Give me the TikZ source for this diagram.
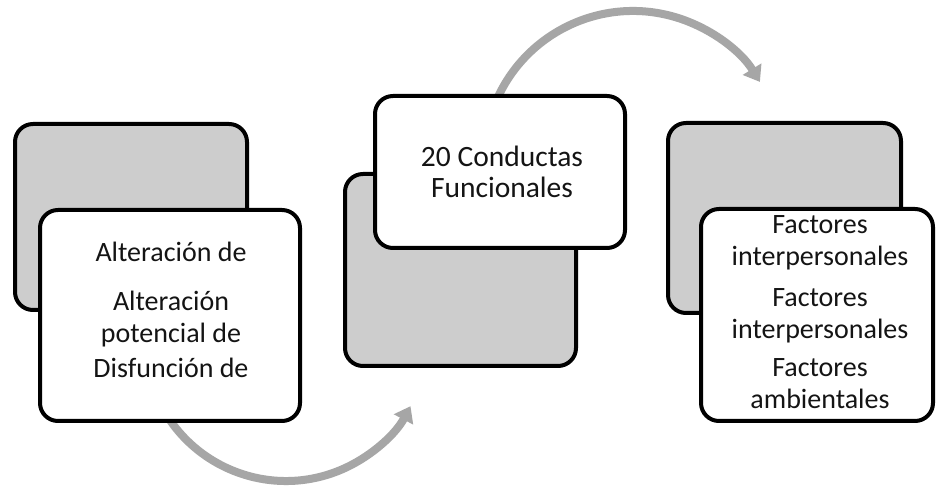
\documentclass[tikz,border=0pt]{standalone}
\usepackage{fontspec}
\setmainfont{Carlito}
\usetikzlibrary{arrows.meta}
\definecolor{boxgray}{RGB}{205,205,205}
\definecolor{arrowgray}{RGB}{166,166,166}
\definecolor{textdark}{RGB}{20,20,20}
\tikzset{
  backbox/.style={draw=black, line width=4pt, rounded corners=18pt, fill=boxgray, inner sep=0pt},
  frontbox/.style={draw=black, line width=4pt, rounded corners=18pt, fill=white, inner sep=0pt},
  boxtext/.style={align=center, text=textdark, font=\fontsize{28}{32}\selectfont, inner sep=0pt},
  flowarrow/.style={draw=arrowgray, line width=8pt, -{Triangle[length=15pt,width=21pt]}}
}
\begin{document}
\begin{tikzpicture}[x=1pt,y=1pt]
\useasboundingbox[fill=white] (0,0) rectangle (937,486);
% arrows (behind the boxes)
\coordinate (c1) at (286,146);
\coordinate (c2) at (633,326);
\draw[flowarrow] (c1) ++(205:141) arc[start angle=205, end angle=332, radius=141];
\draw[flowarrow] (c2) ++(162:149) arc[start angle=162, end angle=31.6, radius=149];
% box 1
\node[backbox, minimum width=232, minimum height=186] (g1) at (131,269) {};
\node[frontbox, minimum width=260, minimum height=211] (w1) at (170,170.5) {};
\node[boxtext] (t1) at (171,176) {Alteración de\\[17pt]Alteración\\potencial de\\[3pt]Disfunción de};
% box 2
\node[backbox, minimum width=231, minimum height=192] (g2) at (460.5,216) {};
\node[frontbox, minimum width=250, minimum height=152] (w2) at (500,314) {};
\node[boxtext, font=\fontsize{29.5}{31}\selectfont] (t2) at (502,314) {20 Conductas\\Funcionales};
% box 3
\node[backbox, minimum width=233, minimum height=190] (g3) at (784.5,268) {};
\node[frontbox, minimum width=232, minimum height=212] (w3) at (817,171) {};
\node[boxtext] (t3) at (820,174) {Factores\\interpersonales\\[9pt]Factores\\interpersonales\\[6pt]Factores\\ambientales};
\end{tikzpicture}
\end{document}
